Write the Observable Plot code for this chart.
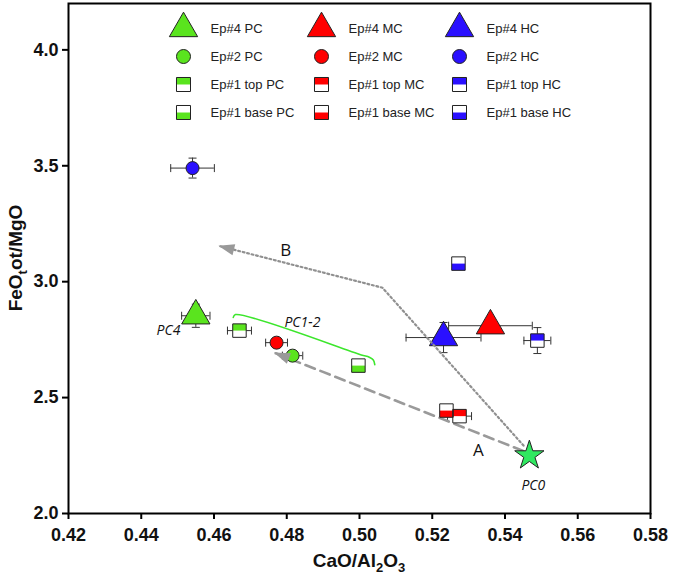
<!DOCTYPE html>
<html><head><meta charset="utf-8">
<script src="https://cdn.jsdelivr.net/npm/d3@7"></script>
<script src="https://cdn.jsdelivr.net/npm/@observablehq/plot@0.6"></script>
<style>
body{margin:0;background:#fff;}
#wrap{position:relative;width:675px;height:577px;}
#legend{position:absolute;left:162px;top:13px;}
</style></head><body><div id="wrap"><div id="main"></div><div id="legend"></div></div>
<script>
const fam = '"Liberation Sans", Arial, Helvetica, sans-serif';
const noteFam = '"Open Sans", "Liberation Sans", sans-serif';

// ticks
const xTicks = [0.42,0.44,0.46,0.48,0.50,0.52,0.54,0.56,0.58];
const yTicks = [2.0,2.5,3.0,3.5,4.0];

// categories
const episodes = ["Ep#4","Ep#2","Ep#1 top","Ep#1 base"];
const classes = ["PC","MC","HC"];
const classColors = ["#5ae41e","#ff0000","#2a10ff"];

// samples
const sampleEpisode = ["Ep#4","Ep#4","Ep#4","Ep#2","Ep#2","Ep#2","Ep#1 top","Ep#1 top","Ep#1 top","Ep#1 base","Ep#1 base","Ep#1 base"];
const sampleClass   = ["PC","MC","HC","PC","MC","HC","PC","MC","HC","PC","MC","HC"];
const caoAl2o3 = [0.4550,0.5360,0.5231,0.4816,0.4772,0.4541,0.4670,0.5275,0.5489,0.4997,0.5239,0.5272];
const feoMgo   = [2.853,2.810,2.759,2.681,2.737,3.490,2.789,2.420,2.746,2.638,2.444,3.078];
const caoErr   = [0.0039,0.0115,0.0103,0.0028,0.0030,0.0060,0.0033,0.0033,0.0037,0,0,0];
const feoErr   = [0.050,0,0.065,0,0,0.043,0,0,0.056,0,0,0];

// PC0 starting composition
const pc0Cao = [0.5467];
const pc0Feo = [2.250];

// trends
const arrowACao = [0.5450,0.4765];
const arrowAFeo = [2.270,2.694];
const arrowBCao = [0.5451,0.5063,0.4612];
const arrowBFeo = [2.293,2.974,3.155];
const pc12Cao = [0.4653,0.4659,0.5005,0.5027,0.5038,0.5042];
const pc12Feo = [2.846,2.858,2.684,2.674,2.662,2.642];

// annotations
const noteText = ["PC4","PC1-2","PC0"];
const noteCao  = [0.4475,0.4843,0.5478];
const noteFeo  = [2.789,2.823,2.120];
const arrowText = ["A","B"];
const arrowTextCao = [0.5327,0.4797];
const arrowTextFeo = [2.270,3.134];

const samples = sampleEpisode.map((e,i)=>({episode:e, cls:sampleClass[i], x:caoAl2o3[i], y:feoMgo[i], ex:caoErr[i], ey:feoErr[i]}));

// custom symbols
const halfTop = {draw(c,s){const w=Math.sqrt(s)/2; c.moveTo(-w,-w); c.lineTo(w,-w); c.lineTo(w,0); c.lineTo(-w,0); c.closePath();}};
const halfBottom = {draw(c,s){const w=Math.sqrt(s)/2; c.moveTo(-w,0); c.lineTo(w,0); c.lineTo(w,w); c.lineTo(-w,w); c.closePath();}};
const vCap = {draw(c,s){const r=Math.sqrt(s/Math.PI); c.moveTo(0,-r); c.lineTo(0,r);}};
const hCap = {draw(c,s){const r=Math.sqrt(s/Math.PI); c.moveTo(-r,0); c.lineTo(r,0);}};
const head = {draw(c,s){const r=Math.sqrt(s/Math.PI); c.moveTo(0,0); c.lineTo(-2*r,-0.7*r); c.lineTo(-2*r,0.7*r); c.closePath();}};

const colorScale = {domain: classes, range: classColors};
const base = {
  width: 675, height: 577,
  marginLeft: 68, marginRight: 25, marginTop: 3, marginBottom: 64,
  x: {domain: [0.42, 0.58]},
  y: {domain: [2.0, 4.2]},
  color: colorScale,
  style: {fontFamily: fam, background: "white"}
};

const probe = Plot.plot({...base, marks: [Plot.frame()]});
const X = probe.scale("x"), Y = probe.scale("y");
const ang = (x1,y1,x2,y2) => Math.atan2(Y.apply(y2)-Y.apply(y1), X.apply(x2)-X.apply(x1))*180/Math.PI;
const nA = arrowACao.length, nB = arrowBCao.length;
const heads = [
  {x: arrowACao[nA-1], y: arrowAFeo[nA-1], a: ang(arrowACao[nA-2],arrowAFeo[nA-2],arrowACao[nA-1],arrowAFeo[nA-1])},
  {x: arrowBCao[nB-1], y: arrowBFeo[nB-1], a: ang(arrowBCao[nB-2],arrowBFeo[nB-2],arrowBCao[nB-1],arrowBFeo[nB-1])}
];

const xe = samples.filter(d=>d.ex>0);
const ye = samples.filter(d=>d.ey>0);
const xCaps = xe.flatMap(d=>[{x:d.x-d.ex,y:d.y},{x:d.x+d.ex,y:d.y}]);
const yCaps = ye.flatMap(d=>[{x:d.x,y:d.y-d.ey},{x:d.x,y:d.y+d.ey}]);
const tri = samples.filter(d=>d.episode==="Ep#4");
const circ = samples.filter(d=>d.episode==="Ep#2");
const sqTop = samples.filter(d=>d.episode==="Ep#1 top");
const sqBase = samples.filter(d=>d.episode==="Ep#1 base");
const sq = sqTop.concat(sqBase);

const main = Plot.plot({...base, marks: [
  Plot.ruleY(xe, {y:"y", x1:d=>d.x-d.ex, x2:d=>d.x+d.ex, stroke:"#333", strokeWidth:1}),
  Plot.ruleX(ye, {x:"x", y1:d=>d.y-d.ey, y2:d=>d.y+d.ey, stroke:"#333", strokeWidth:1}),
  Plot.dot(xCaps, {x:"x", y:"y", symbol:vCap, r:4, stroke:"#333", strokeWidth:1}),
  Plot.dot(yCaps, {x:"x", y:"y", symbol:hCap, r:4, stroke:"#333", strokeWidth:1}),
  Plot.line(pc12Cao, {x:pc12Cao, y:pc12Feo, stroke:"#3ce62c", strokeWidth:1.6, curve:"catmull-rom"}),
  Plot.line(arrowACao, {x:arrowACao, y:arrowAFeo, stroke:"#9a9a9a", strokeWidth:2.6, strokeDasharray:"10,6"}),
  Plot.dot(sq, {x:"x", y:"y", symbol:"square", r:7.6, fill:"white", stroke:"none"}),
  Plot.dot(sqTop, {x:"x", y:"y", symbol:halfTop, r:7.6, fill:"cls", stroke:"none"}),
  Plot.dot(sqBase, {x:"x", y:"y", symbol:halfBottom, r:7.6, fill:"cls", stroke:"none"}),
  Plot.dot(sq, {x:"x", y:"y", symbol:"square", r:7.6, fill:"none", stroke:"#222", strokeWidth:1}),
  Plot.dot(circ, {x:"x", y:"y", r:6.5, fill:"cls", stroke:"#222", strokeWidth:1}),
  Plot.dot(tri, {x:"x", y:"y", symbol:"triangle", r:10.5, fill:"cls", stroke:"#222", strokeWidth:1}),
  Plot.line(arrowBCao, {x:arrowBCao, y:arrowBFeo, stroke:"#909090", strokeWidth:2.2, strokeDasharray:"1.8,2.8"}),
  Plot.dot(heads, {x:"x", y:"y", rotate:"a", symbol:head, r:8, fill:"#999", stroke:"none"}),
  Plot.dot(pc0Cao, {x:pc0Cao, y:pc0Feo, symbol:"star", r:9.2, fill:"#30e860", stroke:"#222", strokeWidth:1}),
  Plot.text(noteText, {x:noteCao, y:noteFeo, text:noteText, fontFamily:noteFam, fontStyle:"italic", fontSize:14, fill:"#111"}),
  Plot.text(arrowText, {x:arrowTextCao, y:arrowTextFeo, text:arrowText, fontFamily:noteFam, fontSize:17, fill:"#111"}),
  Plot.frame({stroke:"#000", strokeWidth:2}),
  Plot.axisX(xTicks, {tickFormat:d=>d.toFixed(2), tickSize:6, tickPadding:9, fontSize:18, fontWeight:"bold", strokeWidth:2, label:null, fill:"#111"}),
  Plot.axisY(yTicks, {tickFormat:d=>d.toFixed(1), tickSize:6, tickPadding:4, fontSize:18, fontWeight:"bold", strokeWidth:2, label:null, fill:"#111"})
]});
document.getElementById("main").appendChild(main);

// axis titles with subscripts
const svg = d3.select(main);
const xr = X.range, yr = Y.range;
const xt = svg.append("text").attr("x",(xr[0]+xr[1])/2).attr("y",567).attr("text-anchor","middle")
  .attr("font-family",fam).attr("font-weight","bold").attr("font-size",19).attr("fill","#111");
xt.append("tspan").text("CaO/Al");
xt.append("tspan").attr("font-size",13).attr("dy",5).text("2");
xt.append("tspan").attr("dy",-5).text("O");
xt.append("tspan").attr("font-size",13).attr("dy",5).text("3");
const yt = svg.append("text").attr("transform",`translate(22,${(yr[0]+yr[1])/2}) rotate(-90)`).attr("text-anchor","middle")
  .attr("font-family",fam).attr("font-weight","bold").attr("font-size",19).attr("fill","#111");
yt.append("tspan").text("FeO");
yt.append("tspan").attr("font-size",13).attr("dy",5).text("t");
yt.append("tspan").attr("dy",-5).text("ot/MgO");

// legend
const legendRows = episodes.flatMap(e=>classes.map(c=>({episode:e, cls:c})));
const lTri = legendRows.filter(d=>d.episode==="Ep#4");
const lCirc = legendRows.filter(d=>d.episode==="Ep#2");
const lTop = legendRows.filter(d=>d.episode==="Ep#1 top");
const lBase = legendRows.filter(d=>d.episode==="Ep#1 base");
const lSq = lTop.concat(lBase);
const legend = Plot.plot({
  width: 412, height: 113, marginLeft: 20, marginRight: 115, marginTop: 14, marginBottom: 14,
  x: {type:"point", domain: classes, padding: 0, axis: null},
  y: {type:"point", domain: episodes, padding: 0, axis: null},
  color: colorScale,
  style: {fontFamily: fam, background: "transparent", overflow: "visible"},
  marks: [
    Plot.dot(lTri, {x:"cls", y:"episode", symbol:"triangle", r:10.5, fill:"cls", stroke:"#222", strokeWidth:1}),
    Plot.dot(lCirc, {x:"cls", y:"episode", r:7, fill:"cls", stroke:"#222", strokeWidth:1}),
    Plot.dot(lSq, {x:"cls", y:"episode", symbol:"square", r:7.9, fill:"white", stroke:"none"}),
    Plot.dot(lTop, {x:"cls", y:"episode", symbol:halfTop, r:7.9, fill:"cls", stroke:"none"}),
    Plot.dot(lBase, {x:"cls", y:"episode", symbol:halfBottom, r:7.9, fill:"cls", stroke:"none"}),
    Plot.dot(lSq, {x:"cls", y:"episode", symbol:"square", r:7.9, fill:"none", stroke:"#222", strokeWidth:1}),
    Plot.text(legendRows, {x:"cls", y:"episode", text:d=>d.episode+" "+d.cls, dx:27, textAnchor:"start", fontSize:13, fill:"#222"})
  ]
});
document.getElementById("legend").appendChild(legend);
</script></body></html>
